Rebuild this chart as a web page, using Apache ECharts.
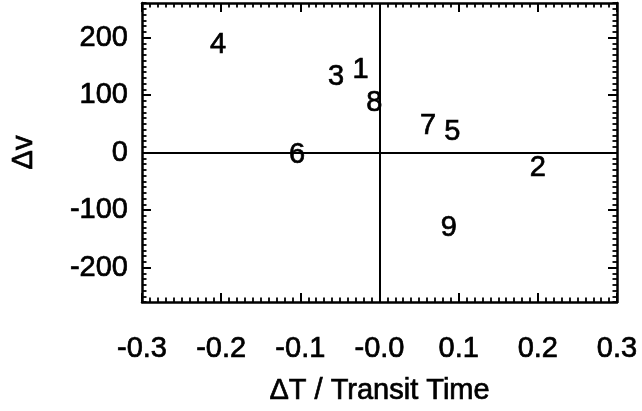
<!DOCTYPE html>
<html>
<head>
<meta charset="utf-8">
<script src="https://cdn.jsdelivr.net/npm/echarts@6/dist/echarts.min.js"></script>
<style>
  html, body { margin: 0; padding: 0; background: #fff; }
  #chart { width: 642px; height: 411px; }
</style>
</head>
<body>
<div id="chart"></div>
<script>
// Event numbers and their offsets
const pointIds = ['1', '2', '3', '4', '5', '6', '7', '8', '9'];
const dT = [-0.024, 0.200, -0.055, -0.204, 0.092, -0.104, 0.0615, -0.0067, 0.0876];
const dv = [143, -27, 132, 187, 35, -4, 46, 86, -132];

// Axis ticks
const xTickLabels = ['-0.3', '-0.2', '-0.1', '-0.0', '0.1', '0.2', '0.3'];
const yMajorTicks = [-200, -100, 0, 100, 200];

const INK = '#000';
// Shared text look: slightly heavier strokes than the regular face
const TEXT = {
  color: INK, fontSize: 29, fontFamily: '"Liberation Sans", Arial, Helvetica, sans-serif',
  textBorderColor: INK, textBorderWidth: 0.7
};

const chart = echarts.init(document.getElementById('chart'), null, { renderer: 'canvas' });

function xAxisDef(pos, withLabels) {
  return {
    type: 'value', position: pos, min: -0.3, max: 0.3, interval: 0.1,
    axisLine: { show: true, onZero: false, lineStyle: { color: INK, width: 2.5 } },
    axisTick: { show: true, inside: true, length: 9, lineStyle: { color: INK, width: 2 } },
    minorTick: { show: true, splitNumber: 10, length: 4.5, lineStyle: { color: INK, width: 1.8 } },
    splitLine: { show: false },
    axisLabel: withLabels ? Object.assign({
      show: true, margin: 32,
      formatter: v => xTickLabels[Math.round(v * 10) + 3]
    }, TEXT) : { show: false },
    name: withLabels ? 'ΔT / Transit Time' : '',
    nameLocation: 'middle', nameGap: 74,
    nameTextStyle: Object.assign({ verticalAlign: 'top' }, TEXT)
  };
}

// Minor y ticks every 10 units
function yMinorDef(pos) {
  return {
    type: 'value', position: pos, min: -260, max: 260, interval: 10,
    axisLine: { show: true, onZero: false, lineStyle: { color: INK, width: 2.5 } },
    axisTick: { show: true, inside: true, length: 4.5, lineStyle: { color: INK, width: 1.8 } },
    splitLine: { show: false },
    axisLabel: { show: false }
  };
}

// Major y ticks every 100 units
function yMajorDef(pos, withLabels) {
  return {
    type: 'value', position: pos, min: -260, max: 260,
    axisLine: { show: false, onZero: false },
    axisTick: { show: true, inside: true, length: 9, customValues: yMajorTicks,
                lineStyle: { color: INK, width: 2 } },
    splitLine: { show: false },
    axisLabel: withLabels ? Object.assign({
      show: true, margin: 14, customValues: yMajorTicks
    }, TEXT) : { show: false },
    name: withLabels ? 'Δv' : '',
    nameLocation: 'middle', nameGap: 104, nameRotate: 90,
    nameTextStyle: TEXT
  };
}

chart.setOption({
  animation: false,
  backgroundColor: '#fff',
  grid: { left: 142, right: 25, top: 3, bottom: 109, containLabel: false },
  xAxis: [xAxisDef('bottom', true), xAxisDef('top', false)],
  yAxis: [yMajorDef('left', true), yMinorDef('left'), yMajorDef('right', false), yMinorDef('right')],
  series: [{
    type: 'scatter',
    xAxisIndex: 0, yAxisIndex: 0,
    symbol: 'circle', symbolSize: 1,
    itemStyle: { color: 'rgba(0,0,0,0)', opacity: 1 },
    data: dT.map((x, i) => [x, dv[i], pointIds[i]]),
    label: Object.assign({
      show: true, position: 'inside',
      formatter: p => p.data[2]
    }, TEXT),
    markLine: {
      silent: true, symbol: 'none', animation: false,
      label: { show: false },
      lineStyle: { color: INK, width: 2, type: 'solid' },
      data: [{ xAxis: 0 }, { yAxis: 0 }]
    },
    z: 3
  }]
});
</script>
</body>
</html>
